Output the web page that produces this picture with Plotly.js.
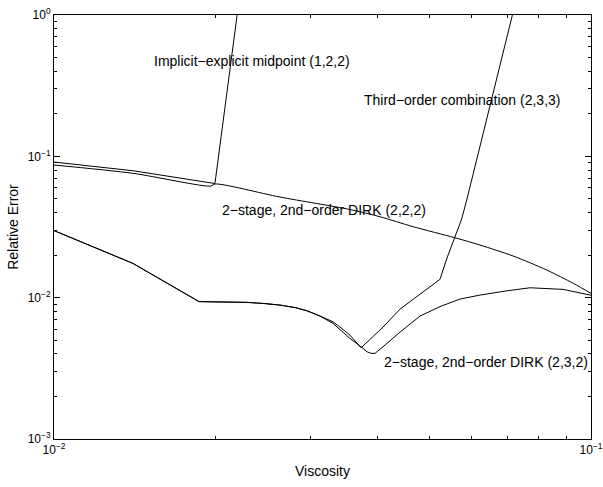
<!DOCTYPE html>
<html>
<head>
<meta charset="utf-8">
<script src="https://cdn.plot.ly/plotly-3.0.1.min.js"></script>
<style>html,body{margin:0;padding:0;background:#fff}#chart{width:603px;height:487px}</style>
</head>
<body>
<div id="chart"></div>
<script>
// Implicit-explicit midpoint (1,2,2)
const imexX = [0.01, 0.01403, 0.01994, 0.02192, 0.0225];
const imexY = [0.0911, 0.0791, 0.0642, 1.0, 2.1];

// 2-stage, 2nd-order DIRK (2,2,2)
const dirk222X = [0.01, 0.01403, 0.01961, 0.01994, 0.02636, 0.03557, 0.04047, 0.04668, 0.05581, 0.06212, 0.07165, 0.08271, 0.09269, 0.1];
const dirk222Y = [0.0868, 0.0758, 0.0616, 0.0637, 0.0515, 0.04202, 0.03737, 0.03175, 0.02654, 0.02357, 0.0197, 0.01568, 0.01263, 0.01072];

// Third-order combination (2,3,3)
const third233X = [0.01, 0.01182, 0.01403, 0.01862, 0.02082, 0.02288, 0.02471, 0.02636, 0.02811, 0.02959, 0.03129, 0.03308, 0.03409, 0.03557, 0.03731, 0.0410, 0.0441, 0.04804, 0.05234, 0.05393, 0.05558, 0.05743, 0.05869, 0.07128, 0.075];
const third233Y = [0.0298, 0.0229, 0.01745, 0.00937, 0.00932, 0.00926, 0.00908, 0.00886, 0.00851, 0.00808, 0.00741, 0.00675, 0.00619, 0.005436, 0.004419, 0.006192, 0.008303, 0.01052, 0.01348, 0.01907, 0.02628, 0.03599, 0.04906, 1.0, 2.14];

// 2-stage, 2nd-order DIRK (2,3,2)
const dirk232X = [0.01, 0.01182, 0.01403, 0.01862, 0.02082, 0.02288, 0.02471, 0.02636, 0.02811, 0.02959, 0.03129, 0.03308, 0.03409, 0.03557, 0.03731, 0.03827, 0.03894, 0.03961, 0.04135, 0.0441, 0.04804, 0.05234, 0.05703, 0.06212, 0.06917, 0.077, 0.0887, 0.1];
const dirk232Y = [0.02985, 0.02299, 0.01749, 0.009385, 0.009324, 0.009262, 0.009082, 0.008865, 0.00851, 0.008076, 0.00741, 0.006579, 0.005944, 0.005152, 0.004492, 0.004141, 0.004035, 0.004035, 0.004618, 0.005708, 0.00741, 0.00865, 0.009774, 0.01043, 0.01113, 0.01175, 0.01145, 0.0104];

const labels = [
  "Implicit\u2212explicit midpoint (1,2,2)",
  "Third\u2212order combination (2,3,3)",
  "2\u2212stage, 2nd\u2212order DIRK (2,2,2)",
  "2\u2212stage, 2nd\u2212order DIRK (2,3,2)"
];

const xMajor = [0.01, 0.1];
const xMajorText = ["10<sup>\u22122</sup>", "10<sup>\u22121</sup>"];
const yMajor = [0.001, 0.01, 0.1, 1];
const yMajorText = ["10<sup>\u22123</sup>", "10<sup>\u22122</sup>", "10<sup>\u22121</sup>", "10<sup>0</sup>"];

function minorVals(decades) {
  const out = [];
  decades.forEach(function (d) { for (let k = 2; k <= 9; k++) out.push(k * d); });
  return out;
}

const line = {color: '#000', width: 1};
const traces = [
  {x: imexX, y: imexY, mode: 'lines', line: line},
  {x: dirk222X, y: dirk222Y, mode: 'lines', line: {color: '#000', width: 1, shape: 'spline', smoothing: 0.8}},
  {x: third233X, y: third233Y, mode: 'lines', line: line},
  {x: dirk232X, y: dirk232Y, mode: 'lines', line: line},
  // helper trace that only carries the minor-tick axes (drawn invisibly)
  {x: dirk232X, y: dirk232Y, xaxis: 'x2', yaxis: 'y2', mode: 'lines', opacity: 0, line: {width: 0}, hoverinfo: 'skip'}
];

const tickFont = {family: 'Liberation Sans, Arial, sans-serif', size: 12, color: '#000'};
const textFont = {family: 'Liberation Sans, Arial, sans-serif', size: 14, color: '#000'};
const axisCommon = {
  type: 'log', showgrid: false, zeroline: false,
  showline: true, linecolor: '#000', linewidth: 1, mirror: 'ticks',
  ticks: 'inside', ticklen: 6, tickcolor: '#000', tickwidth: 1,
  tickmode: 'array', tickfont: tickFont
};
const minorCommon = {
  type: 'log', showgrid: false, zeroline: false, showline: false,
  mirror: 'ticks', ticks: 'inside', ticklen: 3, tickcolor: '#000', tickwidth: 1,
  tickmode: 'array', showticklabels: false
};

const layout = {
  width: 603, height: 487,
  margin: {l: 54, r: 12, t: 15, b: 48},
  paper_bgcolor: '#fff', plot_bgcolor: '#fff',
  showlegend: false,
  font: tickFont,
  xaxis: Object.assign({}, axisCommon, {
    range: [-2, -1], tickvals: xMajor, ticktext: xMajorText,
    title: {text: 'Viscosity', font: textFont, standoff: 9}
  }),
  yaxis: Object.assign({}, axisCommon, {
    range: [-3, 0], tickvals: yMajor, ticktext: yMajorText,
    title: {text: 'Relative Error', font: textFont, standoff: 5}
  }),
  xaxis2: Object.assign({}, minorCommon, {overlaying: 'x', anchor: 'y2', side: 'bottom', range: [-2, -1], tickvals: minorVals([0.01])}),
  yaxis2: Object.assign({}, minorCommon, {overlaying: 'y', anchor: 'x2', side: 'left', range: [-3, 0], tickvals: minorVals([0.001, 0.01, 0.1])}),
  annotations: [
    {text: labels[0], xref: 'paper', yref: 'paper', x: 0.182, y: 0.8915, xanchor: 'left', yanchor: 'middle', showarrow: false, font: textFont},
    {text: labels[1], xref: 'paper', yref: 'paper', x: 0.573, y: 0.7995, xanchor: 'left', yanchor: 'middle', showarrow: false, font: textFont},
    {text: labels[2], xref: 'paper', yref: 'paper', x: 0.309, y: 0.540, xanchor: 'left', yanchor: 'middle', showarrow: false, font: textFont},
    {text: labels[3], xref: 'paper', yref: 'paper', x: 0.610, y: 0.1816, xanchor: 'left', yanchor: 'middle', showarrow: false, font: textFont}
  ]
};

Plotly.newPlot('chart', traces, layout, {staticPlot: true, displayModeBar: false});
</script>
</body>
</html>
